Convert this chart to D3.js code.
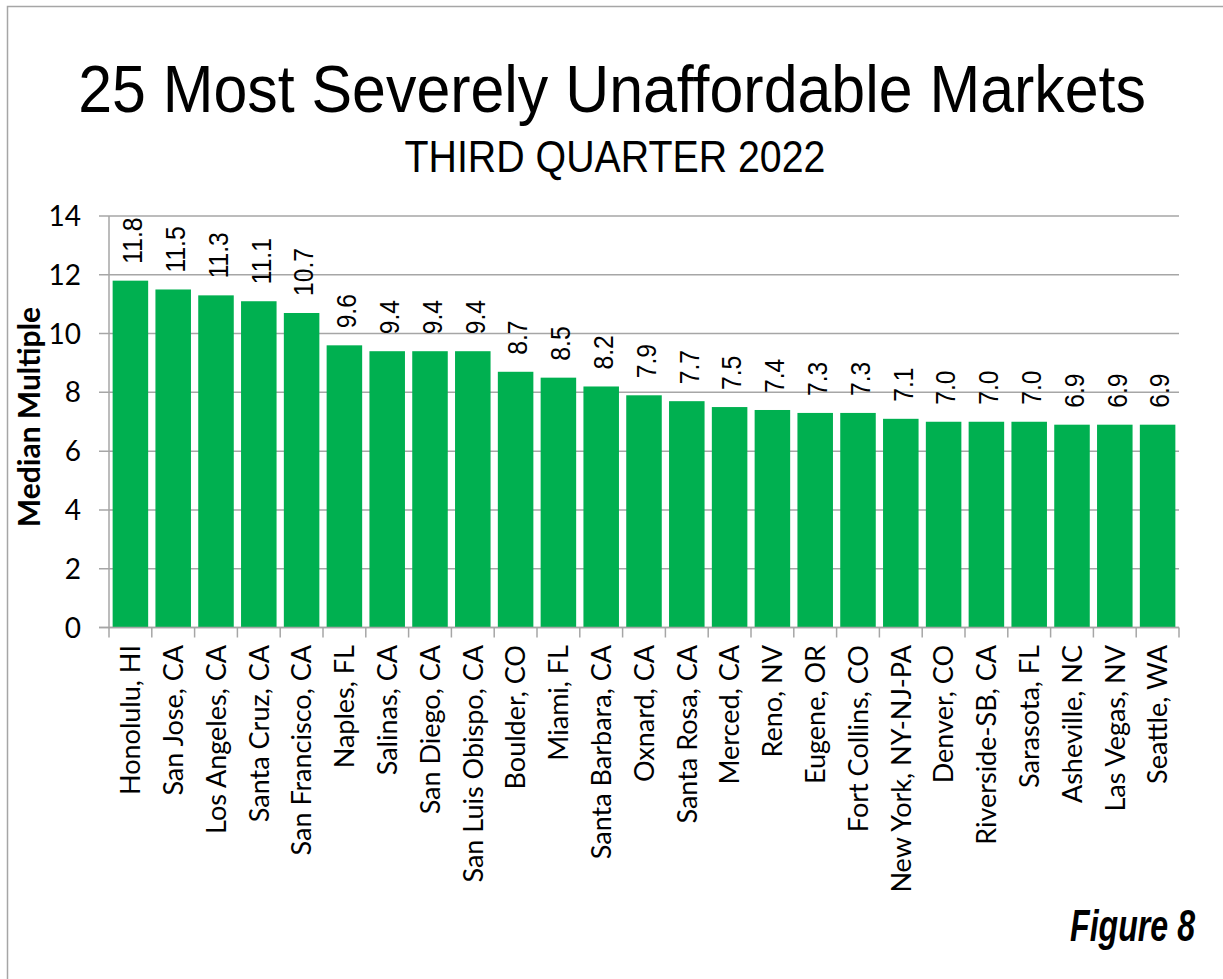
<!DOCTYPE html>
<html>
<head>
<meta charset="utf-8">
<script src="https://cdn.jsdelivr.net/npm/d3@7"></script>
<style>
  body { margin: 0; background: #fff; }
</style>
</head>
<body>
<div id="chart"></div>
<script>
// data
const markets = ["Honolulu, HI", "San Jose, CA", "Los Angeles, CA", "Santa Cruz, CA", "San Francisco, CA",
  "Naples, FL", "Salinas, CA", "San Diego, CA", "San Luis Obispo, CA", "Boulder, CO", "Miami, FL",
  "Santa Barbara, CA", "Oxnard, CA", "Santa Rosa, CA", "Merced, CA", "Reno, NV", "Eugene, OR",
  "Fort Collins, CO", "New York, NY-NJ-PA", "Denver, CO", "Riverside-SB, CA", "Sarasota, FL",
  "Asheville, NC", "Las Vegas, NV", "Seattle, WA"];
const multiples = [11.8, 11.5, 11.3, 11.1, 10.7, 9.6, 9.4, 9.4, 9.4, 8.7, 8.5, 8.2, 7.9, 7.7, 7.5,
  7.4, 7.3, 7.3, 7.1, 7.0, 7.0, 7.0, 6.9, 6.9, 6.9];
const yTicks = [0, 2, 4, 6, 8, 10, 12, 14];

const width = 1223;
const height = 979;
const plotLeft = 109, plotRight = 1179, plotTop = 216, plotBottom = 627.5;

const svg = d3.select("#chart")
  .append("svg")
  .attr("width", width)
  .attr("height", height);

// frame (only top and left visible in the picture)
svg.append("rect")
  .attr("x", 7.5).attr("y", 6.5)
  .attr("width", 1300).attr("height", 1100)
  .attr("fill", "none")
  .attr("stroke", "#a6a6a6")
  .attr("stroke-width", 1.5);

// squeeze a text horizontally to a given width (the original uses a narrow face)
function fitText(sel, cx, cy, w, anchor) {
  const len = sel.node().getComputedTextLength();
  const sx = Math.min(1, w / len);
  sel.attr("text-anchor", anchor)
    .attr("transform", `translate(${cx},${cy}) scale(${sx},1)`);
}

// titles
const title = svg.append("text")
  .style("font-family", "Liberation Sans, Arial, sans-serif")
  .style("font-size", "66px")
  .text("25 Most Severely Unaffordable Markets");
fitText(title, 612, 112, 1068, "middle");

const subtitle = svg.append("text")
  .style("font-family", "Liberation Sans, Arial, sans-serif")
  .style("font-size", "44px")
  .text("THIRD QUARTER 2022");
fitText(subtitle, 615, 172, 421, "middle");

const x = d3.scaleBand()
  .domain(markets)
  .range([plotLeft, plotRight])
  .paddingInner(0.17)
  .paddingOuter(0.085);

const y = d3.scaleLinear()
  .domain([0, 14])
  .range([plotBottom, plotTop]);

// gridlines
svg.append("g")
  .selectAll("line")
  .data(yTicks)
  .enter().append("line")
  .attr("x1", plotLeft - 10).attr("x2", plotRight)
  .attr("y1", d => y(d)).attr("y2", d => y(d))
  .attr("stroke", "#a6a6a6")
  .attr("stroke-width", 1.5);

// y axis line
svg.append("line")
  .attr("x1", plotLeft).attr("x2", plotLeft)
  .attr("y1", plotTop).attr("y2", plotBottom)
  .attr("stroke", "#a6a6a6")
  .attr("stroke-width", 1.5);

// y tick labels
svg.append("g")
  .selectAll("text")
  .data(yTicks)
  .enter().append("text")
  .attr("x", 81)
  .attr("y", d => y(d))
  .attr("dy", "0.36em")
  .attr("text-anchor", "end")
  .style("font-family", "Lato, sans-serif")
  .style("font-size", "28px")
  .text(d => d);

// y axis title
svg.append("text")
  .attr("transform", "translate(40,417) rotate(-90)")
  .attr("text-anchor", "middle")
  .style("font-family", "Lato, sans-serif")
  .style("font-weight", "bold")
  .style("font-size", "30px")
  .text("Median Multiple");

// bars
svg.append("g")
  .selectAll("rect")
  .data(markets)
  .enter().append("rect")
  .attr("x", d => x(d))
  .attr("width", x.bandwidth())
  .attr("y", (d, i) => y(multiples[i]))
  .attr("height", (d, i) => plotBottom - y(multiples[i]))
  .attr("fill", "#00b050");

// x axis baseline + ticks between bands
svg.append("line")
  .attr("x1", plotLeft - 10).attr("x2", plotRight)
  .attr("y1", plotBottom).attr("y2", plotBottom)
  .attr("stroke", "#a6a6a6")
  .attr("stroke-width", 1.5);

const step = x.step();
svg.append("g")
  .selectAll("line")
  .data(d3.range(markets.length + 1))
  .enter().append("line")
  .attr("x1", i => plotLeft + i * step).attr("x2", i => plotLeft + i * step)
  .attr("y1", plotBottom).attr("y2", plotBottom + 10)
  .attr("stroke", "#a6a6a6")
  .attr("stroke-width", 1.5);

// value labels
svg.append("g")
  .selectAll("text")
  .data(markets)
  .enter().append("text")
  .attr("transform", (d, i) => `translate(${x(d) + x.bandwidth() / 2},${y(multiples[i]) - 17}) rotate(-90) scale(0.88,1)`)
  .attr("dy", "0.42em")
  .style("font-family", "Liberation Sans, Arial, sans-serif")
  .style("font-size", "28px")
  .text((d, i) => multiples[i].toFixed(1));

// category labels
svg.append("g")
  .selectAll("text")
  .data(markets)
  .enter().append("text")
  .attr("transform", d => `translate(${x(d) + x.bandwidth() / 2},645) rotate(-90)`)
  .attr("dy", "0.36em")
  .attr("text-anchor", "end")
  .style("font-family", "Lato, sans-serif")
  .style("font-size", "27px")
  .text(d => d);

// figure number
const fig = svg.append("text")
  .style("font-family", "Liberation Sans, Arial, sans-serif")
  .style("font-weight", "bold")
  .style("font-style", "italic")
  .style("font-size", "44px")
  .text("Figure 8");
fitText(fig, 1195, 941, 125, "end");
</script>
</body>
</html>
